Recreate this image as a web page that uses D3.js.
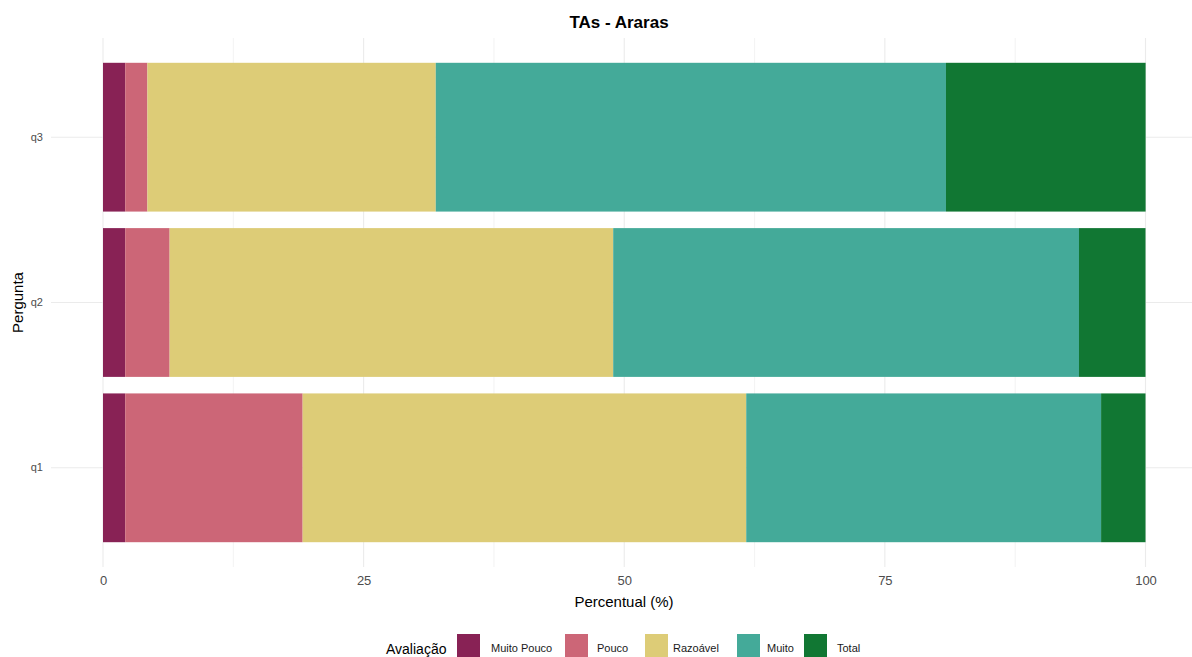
<!DOCTYPE html>
<html><head><meta charset="utf-8">
<script src="https://cdn.jsdelivr.net/npm/d3@7"></script>
<style>body{margin:0;background:#fff}svg{display:block;font-family:"Liberation Sans",Arial,sans-serif}</style>
</head><body><svg id="c" width="1192" height="657"></svg>
<script>
const questions = ["q1","q2","q3"];
const levels = ["Muito Pouco","Pouco","Razoável","Muito","Total"];
const colors = ["#882255","#CC6677","#DDCC77","#44AA99","#117733"];
// percentages per question (n = 47 respondents)
const muitoPouco = [2.13, 2.13, 2.13];
const pouco      = [17.02, 4.26, 2.13];
const razoavel   = [42.55, 42.55, 27.66];
const muito      = [34.04, 44.68, 48.94];
const total      = [4.26, 6.38, 19.15];
const xTicks = [0, 25, 50, 75, 100];
const xMinor = [12.5, 37.5, 62.5, 87.5];

const series = [muitoPouco, pouco, razoavel, muito, total];
const rows = questions.map((q,i)=>{const r={q}; levels.forEach((l,j)=>r[l]=series[j][i]); return r;});
const stack = d3.stack().keys(levels)(rows);

const svg = d3.select("#c");
const panel = {l:51, r:1197, t:38, b:567};
const x = d3.scaleLinear().domain([0,100]).range([103,1145.5]);
const y = d3.scaleBand().domain(questions.slice().reverse()).range([panel.t, panel.b]).paddingInner(0.1).paddingOuter(0.15);

const g = svg.append("g");
// grid
g.selectAll(".minor").data(xMinor).join("line")
  .attr("x1",d=>x(d)).attr("x2",d=>x(d)).attr("y1",panel.t).attr("y2",panel.b)
  .attr("stroke","#EBEBEB").attr("stroke-width",0.6);
g.selectAll(".major").data(xTicks).join("line")
  .attr("x1",d=>x(d)).attr("x2",d=>x(d)).attr("y1",panel.t).attr("y2",panel.b)
  .attr("stroke","#EBEBEB").attr("stroke-width",1.1);
g.selectAll(".hgrid").data(questions).join("line")
  .attr("x1",panel.l).attr("x2",panel.r).attr("y1",d=>y(d)+y.bandwidth()/2).attr("y2",d=>y(d)+y.bandwidth()/2)
  .attr("stroke","#EBEBEB").attr("stroke-width",1.1);

// bars
stack.forEach((s,j)=>{
  g.append("g").selectAll("rect").data(s).join("rect")
    .attr("x",d=>x(d[0])).attr("width",d=>x(d[1])-x(d[0]))
    .attr("y",d=>y(d.data.q)).attr("height",y.bandwidth())
    .attr("fill",colors[j]);
});

// axes
const xa = svg.append("g").attr("transform",`translate(0,${panel.b})`)
  .call(d3.axisBottom(x).tickValues(xTicks).tickSize(0).tickPadding(9).tickFormat(d3.format("d")));
xa.select(".domain").remove();
xa.selectAll("text").attr("fill","#4D4D4D").style("font-size","13px").style("font-family","Liberation Sans, Arial, sans-serif");

const ya = svg.append("g").attr("transform",`translate(${panel.l},0)`)
  .call(d3.axisLeft(y).tickSize(0).tickPadding(8));
ya.select(".domain").remove();
ya.selectAll("text").attr("fill","#4D4D4D").style("font-size","11px").style("font-family","Liberation Sans, Arial, sans-serif");

// titles
svg.append("text").attr("x",619).attr("y",28).attr("text-anchor","middle")
  .style("font-size","17px").style("font-weight","bold").text("TAs - Araras");
svg.append("text").attr("x",624).attr("y",607).attr("text-anchor","middle")
  .style("font-size","15px").text("Percentual (%)");
svg.append("text").attr("transform",`translate(23,${(panel.t+panel.b)/2}) rotate(-90)`).attr("text-anchor","middle")
  .style("font-size","15px").text("Pergunta");

// legend
const lg = svg.append("g");
lg.append("text").attr("x",386).attr("y",654).style("font-size","14px").text("Avaliação");
const boxX = [457, 565, 645, 737, 804];
const txtX = [491, 597, 673, 767, 837];
levels.forEach((l,j)=>{
  lg.append("rect").attr("x",boxX[j]).attr("y",634).attr("width",23).attr("height",23).attr("fill",colors[j]);
  lg.append("text").attr("x",txtX[j]).attr("y",652).style("font-size","11px").attr("fill","#1a1a1a").text(l);
});
</script></body></html>
